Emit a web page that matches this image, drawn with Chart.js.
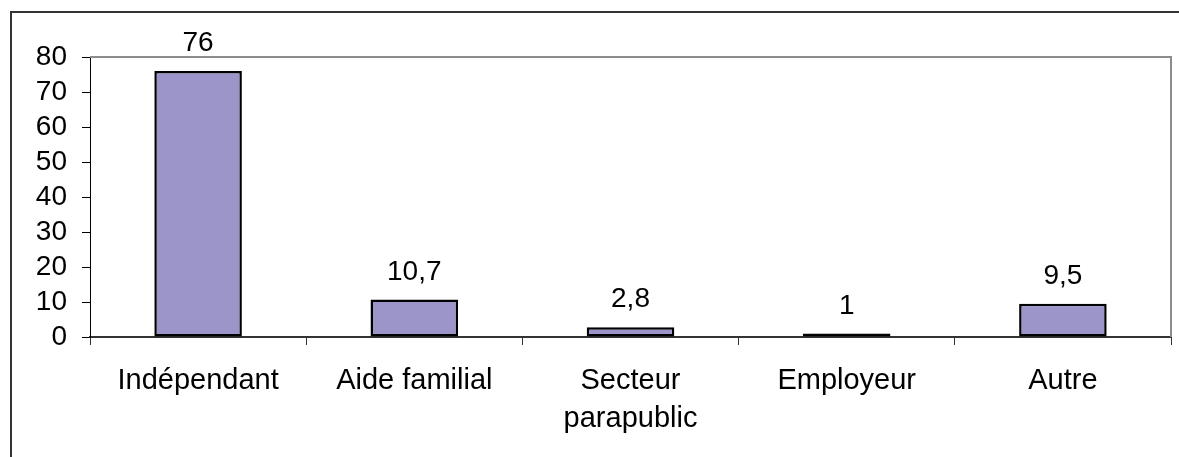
<!DOCTYPE html>
<html>
<head>
<meta charset="utf-8">
<script src="https://cdn.jsdelivr.net/npm/chart.js@4/dist/chart.umd.min.js"></script>
<style>
body { margin: 0; background: #fff; }
canvas { display: block; }
</style>
</head>
<body>
<canvas id="chart" width="1179" height="457"></canvas>
<script>
var categories = ['Indépendant', 'Aide familial', ['Secteur', 'parapublic'], 'Employeur', 'Autre'];
var values = [76, 10.7, 2.8, 1, 9.5];
var yTicks = [0, 10, 20, 30, 40, 50, 60, 70, 80];

var fontFamily = '"Liberation Sans", Arial, sans-serif';

var frame = {
    id: 'frame',
    afterDraw: function (chart) {
        var ctx = chart.ctx;
        var a = chart.chartArea;
        ctx.save();
        // plot area border (top and right)
        ctx.strokeStyle = '#8c8c8c';
        ctx.lineWidth = 2;
        ctx.beginPath();
        ctx.moveTo(a.left, a.top);
        ctx.lineTo(a.right, a.top);
        ctx.lineTo(a.right, a.bottom);
        ctx.stroke();
        // outer border
        ctx.strokeStyle = '#333333';
        ctx.lineWidth = 2;
        ctx.beginPath();
        ctx.moveTo(11, chart.height);
        ctx.lineTo(11, 12);
        ctx.lineTo(chart.width, 12);
        ctx.stroke();
        ctx.restore();
    }
};

var valueLabels = {
    id: 'valueLabels',
    afterDatasetsDraw: function (chart) {
        var ctx = chart.ctx;
        var meta = chart.getDatasetMeta(0);
        ctx.save();
        ctx.fillStyle = '#000';
        ctx.font = '28px ' + fontFamily;
        ctx.textAlign = 'center';
        ctx.textBaseline = 'alphabetic';
        meta.data.forEach(function (bar, i) {
            ctx.fillText(String(values[i]).replace('.', ','), bar.x, bar.y - 20);
        });
        ctx.restore();
    }
};

var chart = new Chart(document.getElementById('chart'), {
    type: 'bar',
    data: {
        labels: categories,
        datasets: [{
            data: values,
            backgroundColor: '#9b95c9',
            borderColor: '#000000',
            borderWidth: 2.5,
            borderSkipped: false,
            categoryPercentage: 1,
            barPercentage: 0.405
        }]
    },
    options: {
        responsive: false,
        animation: false,
        layout: {
            padding: { left: 0, top: 57, right: 8, bottom: 0 }
        },
        plugins: {
            legend: { display: false },
            tooltip: { enabled: false }
        },
        scales: {
            x: {
                grid: {
                    display: true,
                    drawOnChartArea: false,
                    drawTicks: true,
                    tickLength: 8,
                    color: '#333333',
                    offset: true
                },
                border: { display: true, color: '#333333', width: 2 },
                ticks: {
                    color: '#000',
                    padding: 17,
                    maxRotation: 0,
                    autoSkip: false,
                    font: { family: fontFamily, size: 29, lineHeight: 1.3 }
                },
                afterFit: function (scale) { scale.height = 120; }
            },
            y: {
                min: 0,
                max: 80,
                afterBuildTicks: function (scale) {
                    scale.ticks = yTicks.map(function (v) { return { value: v }; });
                },
                grid: {
                    display: true,
                    drawOnChartArea: false,
                    drawTicks: true,
                    tickLength: 8,
                    color: '#000000'
                },
                border: { display: true, color: '#000000', width: 1 },
                ticks: {
                    color: '#000',
                    padding: 15,
                    autoSkip: false,
                    font: { family: fontFamily, size: 28 }
                },
                afterFit: function (scale) { scale.width = 90; }
            }
        }
    },
    plugins: [frame, valueLabels]
});
</script>
</body>
</html>
